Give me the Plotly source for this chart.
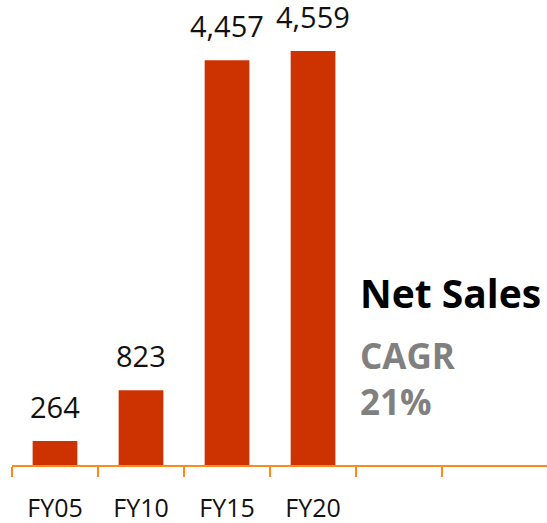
import plotly.graph_objects as go

years = ["FY05", "FY10", "FY15", "FY20"]
net_sales = [264, 823, 4457, 4559]
value_labels = ["264", "823", "4,457", "4,559"]
boundaries = [-0.5, 0.5, 1.5, 2.5, 3.5, 4.5]
positions = list(range(len(years)))

bar_color = "#CC3300"
axis_color = "#FF8A1C"

fig = go.Figure()
fig.add_trace(go.Bar(
    x=positions, y=net_sales,
    width=0.52,
    marker=dict(color=bar_color, line=dict(width=0)),
    showlegend=False,
    hoverinfo="skip",
))

for xi, v, lab in zip(positions, net_sales, value_labels):
    fig.add_annotation(
        x=xi, y=v, text=lab, showarrow=False,
        yanchor="bottom", yshift=13,
        font=dict(family="Open Sans", size=29, color="#111111"),
    )

# side labels
fig.add_annotation(
    xref="paper", yref="paper", x=0.655, y=0.372, xanchor="left", yanchor="middle",
    text="<b>Net Sales</b>", showarrow=False,
    font=dict(family="Open Sans", size=39, color="#000000"),
)
fig.add_annotation(
    xref="paper", yref="paper", x=0.655, y=0.187, xanchor="left", yanchor="middle",
    text="<b>CAGR<br>21%</b>", showarrow=False, align="left",
    font=dict(family="Open Sans", size=35, color="#808080"),
)

fig.update_layout(
    width=547, height=523,
    paper_bgcolor="white",
    plot_bgcolor="white",
    margin=dict(l=0, r=0, t=0, b=58),
)
fig.update_xaxes(
    domain=[12 / 547, 1],
    range=[-0.5, 5.72],
    tickvals=positions, ticktext=years,
    ticks="", showgrid=False, zeroline=False,
    showline=True, linecolor=axis_color, linewidth=2,
    ticklabelstandoff=20,
    tickfont=dict(family="Open Sans", size=25, color="#111111"),
    minor=dict(tickvals=boundaries, ticks="outside", ticklen=10, tickwidth=2, tickcolor=axis_color, showgrid=False),
)
fig.update_yaxes(
    range=[0, 5121], visible=False, showgrid=False, zeroline=False,
)

fig.write_html("out.html", config={"displayModeBar": False},
               post_script="document.body.style.margin='0';")
